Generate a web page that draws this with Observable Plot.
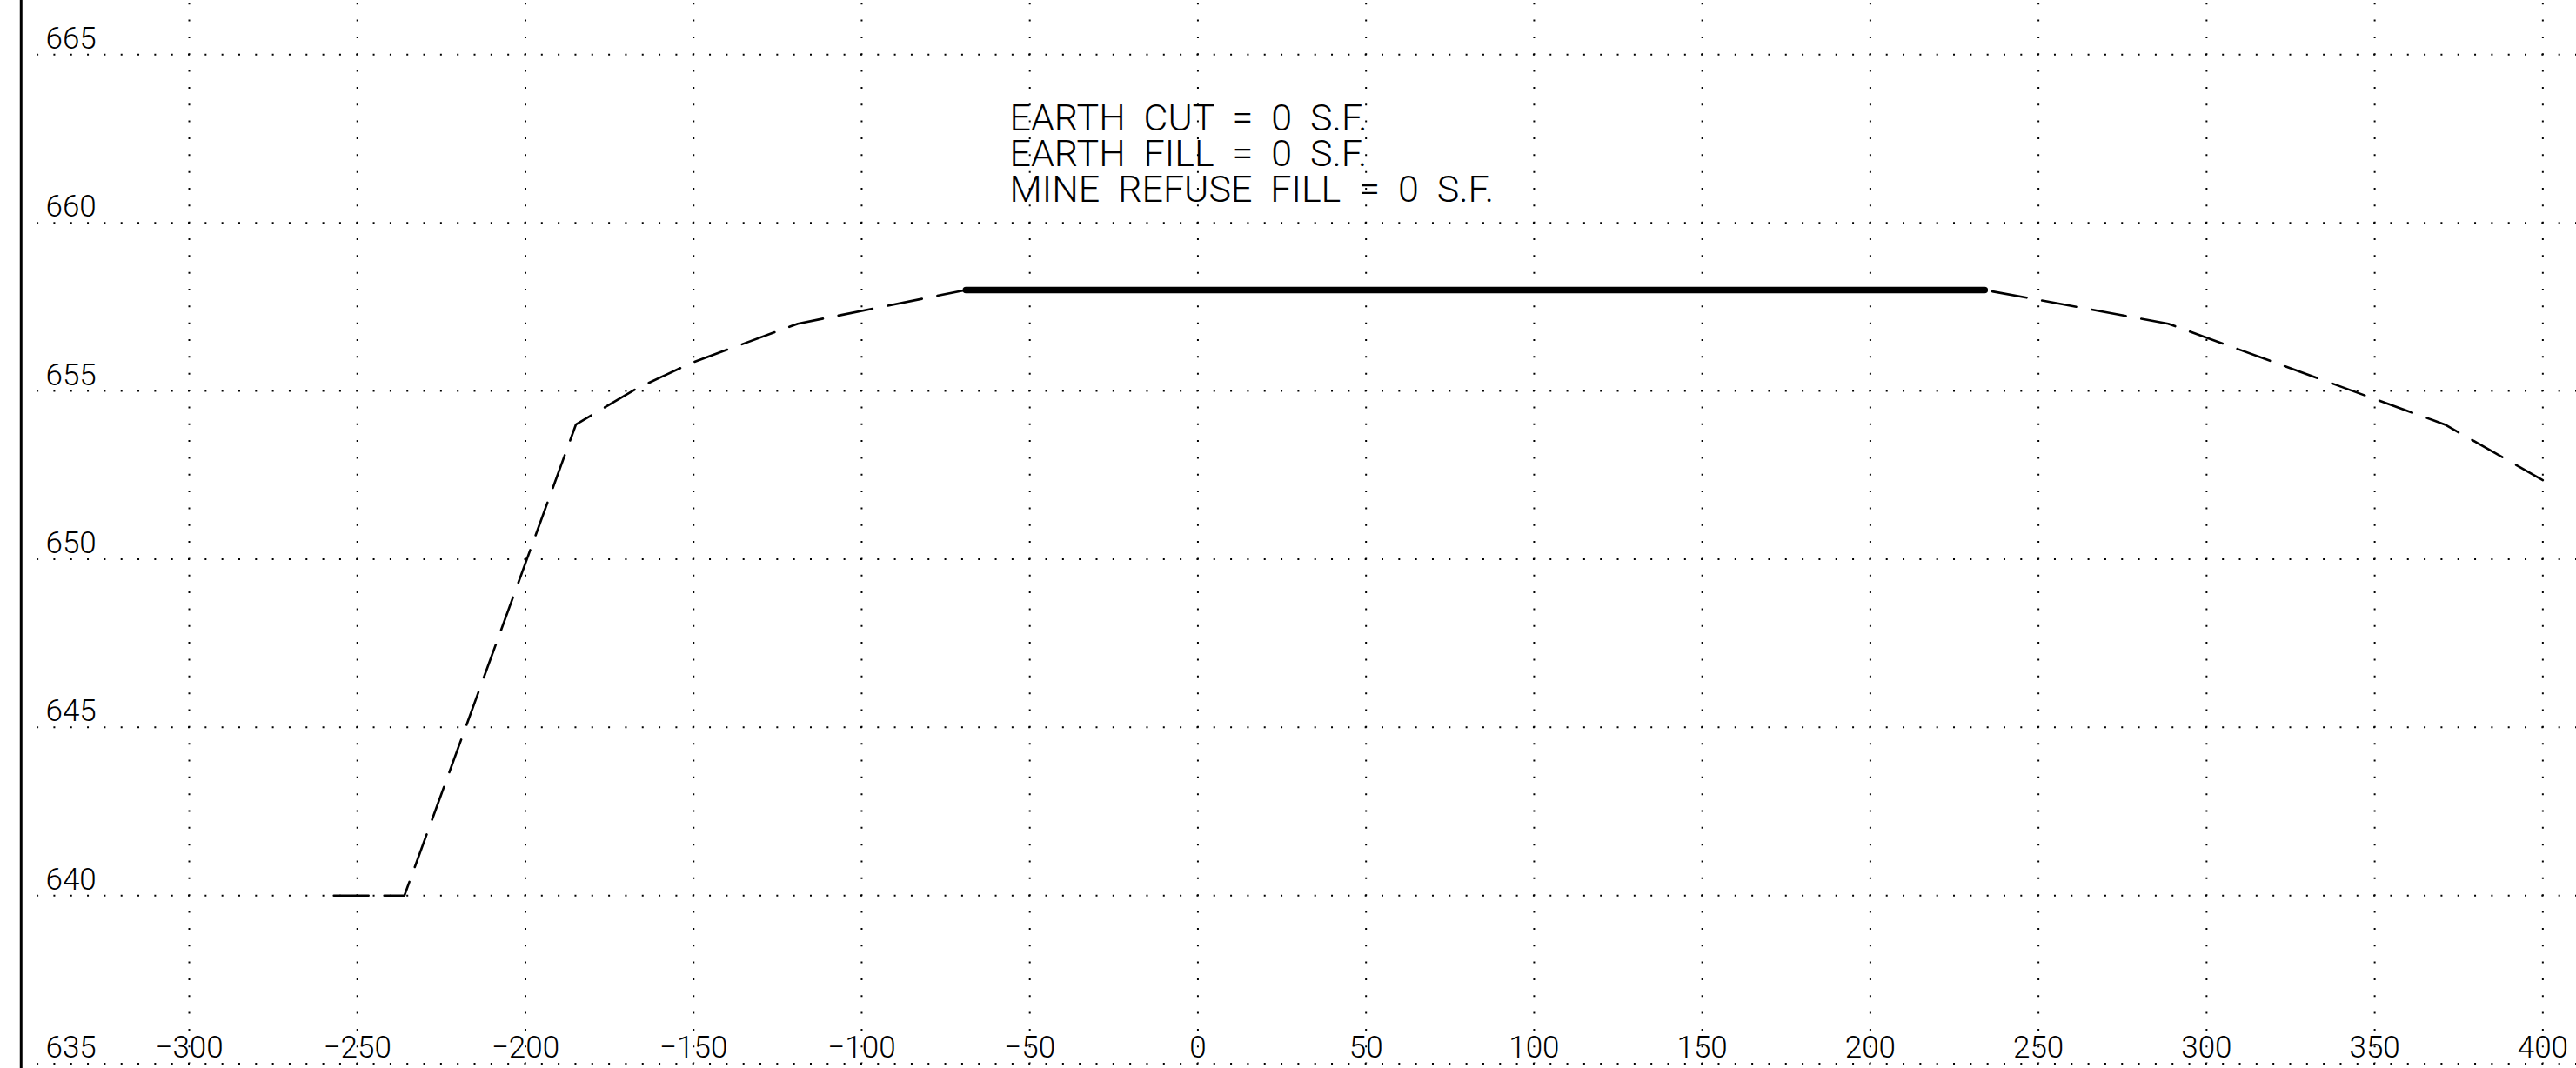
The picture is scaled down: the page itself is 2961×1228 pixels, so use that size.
<!DOCTYPE html>
<html>
<head>
<meta charset="utf-8">
<script src="https://cdn.jsdelivr.net/npm/d3@7"></script>
<script src="https://cdn.jsdelivr.net/npm/@observablehq/plot@0.6"></script>
<style>
  html, body { margin: 0; padding: 0; background: #fff; overflow: hidden; }
</style>
</head>
<body>
<div id="chart"></div>
<script>
// Axis ticks
const xTicks = [-300, -250, -200, -150, -100, -50, 0, 50, 100, 150, 200, 250, 300, 350, 400];
const yTicks = [635, 640, 645, 650, 655, 660, 665];

// Existing ground (dashed), left part
const groundLeftX = [-257, -236, -185, -167, -150.5, -119, -69];
const groundLeftY = [640, 640, 654, 655.07, 655.84, 657, 658];
// Existing ground (dashed), right part
const groundRightX = [234, 288.6, 370.9, 400];
const groundRightY = [658, 657, 654, 652.35];
// Proposed grade (solid, heavy)
const gradeX = [-69, 234];
const gradeY = [658, 658];

// Annotation
const noteLines = ["EARTH  CUT  =  0  S.F.", "EARTH  FILL  =  0  S.F.", "MINE  REFUSE  FILL  =  0  S.F."];
const noteX = -56;
const noteY = 663.5;

// Frame / grid extents (data units)
const xDomain = [-356.15, 410.0];
const yDomain = [634.86, 666.61];
const frameX = -350;
const gridXStart = -345;

const groundLeft = groundLeftX.map((x, i) => ({x, y: groundLeftY[i]}));
const groundRight = groundRightX.map((x, i) => ({x, y: groundRightY[i]}));
const grade = gradeX.map((x, i) => ({x, y: gradeY[i]}));
const fmt = d => d < 0 ? "\u2212" + Math.abs(d) : String(d);

const W = 2961, H = 1228;
const pxPerX = W / (xDomain[1] - xDomain[0]);
const pxPerY = H / (yDomain[1] - yDomain[0]);
const hStep = 5 * pxPerX;    // dots every 5 units along horizontal grid
const vStep = 0.5 * pxPerY;  // dots every 0.5 units along vertical grid

const chart = Plot.plot({
  width: W,
  height: H,
  margin: 0,
  x: {domain: xDomain, axis: null},
  y: {domain: yDomain, axis: null},
  style: {background: "#fff", fontFamily: "Roboto, 'Liberation Sans', sans-serif", fontWeight: 300, color: "#000"},
  marks: [
    Plot.ruleY(yTicks, {y: d => d, x1: gridXStart, x2: xDomain[1], stroke: "#000", strokeWidth: 2,
      strokeDasharray: `2 ${hStep - 2}`, strokeDashoffset: 1}),
    Plot.ruleX(xTicks, {x: d => d, y1: yTicks[0], y2: yDomain[1], stroke: "#000", strokeWidth: 2,
      strokeDasharray: `2 ${vStep - 2}`, strokeDashoffset: 1}),
    Plot.ruleX([frameX], {stroke: "#000", strokeWidth: 3}),
    Plot.line(groundLeft, {x: "x", y: "y", stroke: "#000", strokeWidth: 2.6, strokeDasharray: "40 18", strokeLinejoin: "miter"}),
    Plot.line(groundRight, {x: "x", y: "y", stroke: "#000", strokeWidth: 2.6, strokeDasharray: "40 18", strokeDashoffset: -9, strokeLinejoin: "miter"}),
    Plot.line(grade, {x: "x", y: "y", stroke: "#000", strokeWidth: 7.5}),
    Plot.text(yTicks, {y: d => d, text: fmt, frameAnchor: "left", dx: 52, dy: -7,
      textAnchor: "start", lineAnchor: "bottom", fontSize: 35, fill: "#000", ariaLabel: "ylabels"}),
    Plot.text(xTicks, {x: d => d, text: fmt, frameAnchor: "bottom", dy: -12.5,
      textAnchor: "middle", lineAnchor: "bottom", fontSize: 35, fill: "#000", ariaLabel: "xlabels"}),
    Plot.text([noteLines.join("\n")], {x: () => noteX, y: () => noteY, text: d => d,
      textAnchor: "start", lineAnchor: "top", fontSize: 43, lineHeight: 0.955, fill: "#000", ariaLabel: "note"})
  ]
});
d3.select(chart).selectAll('g[aria-label="ylabels"] text, g[aria-label="xlabels"] text')
  .style("letter-spacing", "2px").style("white-space", "pre");
d3.select(chart).selectAll('g[aria-label="note"] text')
  .style("white-space", "pre");
document.getElementById("chart").appendChild(chart);
</script>
</body>
</html>
